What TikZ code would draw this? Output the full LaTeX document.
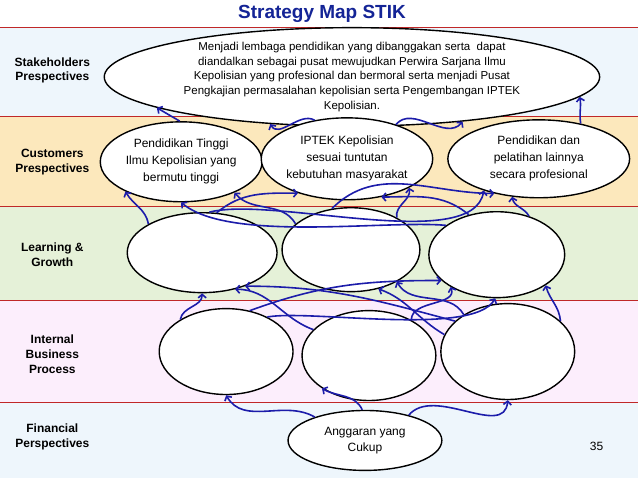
\documentclass[tikz,border=0pt]{standalone}
\usepackage{fontspec}
\setmainfont{Liberation Sans}
\usetikzlibrary{shapes.geometric,arrows.meta}
\definecolor{arrowblue}{RGB}{28,28,170}
\definecolor{titleblue}{RGB}{20,36,150}
\definecolor{bandblue}{RGB}{238,246,252}
\definecolor{bandorange}{RGB}{252,232,188}
\definecolor{bandgreen}{RGB}{229,241,216}
\definecolor{bandpink}{RGB}{252,238,252}
\definecolor{linered}{RGB}{192,40,40}
\begin{document}
\begin{tikzpicture}[x=1pt,y=1pt,
  oval/.style={ellipse,draw=black,line width=1.4pt,fill=white,inner sep=0pt,align=center},
  lbl/.style={font=\bfseries\fontsize{12}{15}\selectfont,align=center},
  bigtext/.style={font=\fontsize{11.5}{14.75}\selectfont},
  ctext/.style={font=\fontsize{12}{17}\selectfont},
  arr/.style={draw=arrowblue,line width=1.6pt,-{Straight Barb[length=3.5pt,width=8pt]}},
  sepline/.style={draw=linered,line width=0.8pt}]
% background and bands
\fill[white] (0,0) rectangle (638,479);
\fill[bandblue]   (0,362) rectangle (638,452);
\fill[bandorange] (0,272) rectangle (638,362);
\fill[bandgreen]  (0,178) rectangle (638,272);
\fill[bandpink]   (0,76)  rectangle (638,178);
\fill[bandblue]   (0,0)   rectangle (638,76);
\foreach \yy in {452,362,272,178,76} \draw[sepline] (0,\yy) -- (638,\yy);
\useasboundingbox (0,0) rectangle (638,479);
% title and labels
\node[font=\bfseries\fontsize{19}{22}\selectfont,text=titleblue] (title) at (322,465) {Strategy Map STIK};
\node[lbl] (lstake) at (52,408.5) {Stakeholders\\Prespectives};
\node[lbl] (lcust) at (52,316.5) {Customers\\Prespectives};
\node[lbl] (llearn) at (52,224) {Learning \&\\Growth};
\node[lbl] (lint) at (52,124) {Internal\\Business\\Process};
\node[lbl] (lfin) at (52,41.5) {Financial\\Perspectives};
\node[font=\fontsize{12}{14}\selectfont] (page) at (597,32) {35};
% objectives
\node[oval,bigtext,minimum width=496pt,minimum height=80pt] (S) at (352,402)
 {Menjadi lembaga pendidikan yang dibanggakan serta\ \ dapat\\
  diandalkan sebagai pusat mewujudkan Perwira Sarjana Ilmu\\
  Kepolisian yang profesional dan bermoral serta menjadi Pusat\\
  Pengkajian permasalahan kepolisian serta Pengembangan IPTEK\\
  Kepolisian.};
\node[oval,ctext,minimum width=162pt,minimum height=80pt] (C1) at (181,317) {Pendidikan Tinggi\\Ilmu Kepolisian yang\\bermutu tinggi};
\node[oval,ctext,minimum width=164pt,minimum height=82pt] (C2) at (347,320) {IPTEK Kepolisian\\sesuai tuntutan\\kebutuhan masyarakat};
\node[oval,ctext,minimum width=182pt,minimum height=78pt] (C3) at (539,320) {Pendidikan dan\\pelatihan lainnya\\secara profesional};
\node[oval,minimum width=150pt,minimum height=80pt] (L1) at (202,226) {};
\node[oval,minimum width=138pt,minimum height=84pt] (L2) at (351,229) {};
\node[oval,minimum width=136pt,minimum height=86pt] (L3) at (497,224) {};
\node[oval,minimum width=134pt,minimum height=86pt] (I1) at (226,127) {};
\node[oval,minimum width=134pt,minimum height=90pt] (I2) at (369,123) {};
\node[oval,minimum width=134pt,minimum height=96pt] (I3) at (508,127) {};
\node[oval,ctext,font=\fontsize{12}{16}\selectfont,minimum width=154pt,minimum height=60pt] (F) at (365,38) {Anggaran yang\\Cukup};
% customers -> stakeholders
\draw[arr] (C1.92) -- (S.189);
\draw[arr] (C2.130) to[out=150,in=-60] (S.210);
\draw[arr] (C2.35) to[out=50,in=-130] (S.-22);
\draw[arr] (C3.40) to[out=100,in=-80] (S.-5);
% learning -> customers
\draw[arr] (L1.152) to[out=100,in=-60] (C1.208);
\draw[arr] (L2.155) to[out=120,in=-50] (C1.-30);
\draw[arr] (L3.150) to[out=175,in=-40,looseness=0.6] (C1.-90);
\draw[arr] (L1.70) to[out=40,in=180] (C2.215);
\draw[arr] (L3.125) to[out=140,in=0] (C2.-48);
\draw[arr] (L2.35) to[out=100,in=-80] (C2.-25);
\draw[arr] (L1.80) to[out=15,in=-100,looseness=0.6] (C3.210);
\draw[arr] (L2.115) to[out=45,in=180] (C3.218);
\draw[arr] (L3.50) to[out=120,in=-80] (C3.235);
% internal -> learning
\draw[arr] (I1.145) to[out=80,in=-90] (L1.-90);
\draw[arr] (I2.155) to[out=160,in=0] (L1.-48);
\draw[arr] (I3.150) to[out=165,in=0] (L1.-38);
\draw[arr] (I3.165) to[out=150,in=-20] (L2.-55);
\draw[arr] (I3.140) to[out=120,in=-60] (L2.-35);
\draw[arr] (I1.60) to[out=20,in=180] (L3.205);
\draw[arr] (I2.40) to[out=90,in=-70] (L3.215);
\draw[arr] (I1.40) to[out=10,in=-120,looseness=0.5] (L3.-92);
\draw[arr] (I3.30) to[out=95,in=-75] (L3.-32);
% financial -> internal
\draw[arr] (F.155) to[out=150,in=-60] (I1.-90);
\draw[arr] (F.95) to[out=115,in=-30] (I2.215);
\draw[arr] (F.30) to[out=50,in=-95] (I3.-90);
\end{tikzpicture}
\end{document}
